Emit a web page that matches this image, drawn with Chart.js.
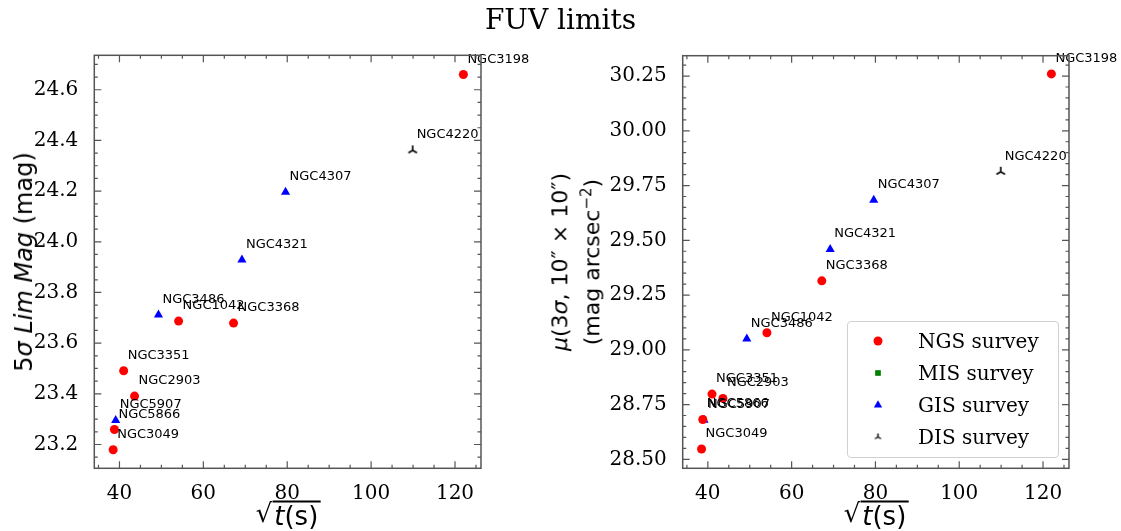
<!DOCTYPE html>
<html>
<head>
<meta charset="utf-8">
<script src="https://cdn.jsdelivr.net/npm/chart.js@4.4.0/dist/chart.umd.min.js"></script>
<style>
    body { margin: 0; background: #fff; }
    #fig { position: relative; width: 1121px; height: 531px; overflow: hidden; font-family: "DejaVu Sans", sans-serif; color: #000; }
    #fig canvas.plot { position: absolute; top: 0; }
    .title { position: absolute; left: 0; width: 1121px; top: 3px; text-align: center; font-family: "DejaVu Serif", serif; font-size: 28px; }
    .ylab { position: absolute; white-space: nowrap; transform: translate(-50%, -50%) rotate(-90deg); text-align: center; }
    .xlab { position: absolute; white-space: nowrap; transform: translate(-50%, -50%); font-size: 26px; line-height: 30px; }
    .xlab .rad { display: inline-block; line-height: 26px; border-top: 2px solid #000; padding: 0 2px; vertical-align: top; margin-top: 3px; }
    .legend { position: absolute; left: 847px; top: 321px; width: 210px; height: 135px; border: 1px solid #d0d0d0; border-radius: 4px; background: rgba(255,255,255,0.85); font-family: "DejaVu Serif", serif; font-size: 20px; }
    .legend .row { position: absolute; left: 0; height: 30px; line-height: 30px; }
    .legend canvas { position: absolute; left: 20px; top: 5px; }
    .legend span { position: absolute; left: 70px; white-space: nowrap; }
</style>
</head>
<body>
<div id="fig">
    <canvas id="leftPlot" class="plot" width="560" height="531" style="left:0"></canvas>
    <canvas id="rightPlot" class="plot" width="561" height="531" style="left:560px"></canvas>
    <div class="title">FUV limits</div>
    <div class="ylab" style="left:24px; top:262px; font-size:24px;">5<i>σ</i> <i>Lim</i> <i>Mag</i> (mag)</div>
    <div class="ylab" style="left:576px; top:262px; font-size:22px; line-height:27px;"><i>μ</i>(3<i>σ</i>, 10″ × 10″)<br>(mag arcsec<sup style="font-size:15px">−2</sup>)</div>
    <div class="xlab" style="left:288px; top:513px;">√<span class="rad"><i>t</i>(s)</span></div>
    <div class="xlab" style="left:876px; top:513px;">√<span class="rad"><i>t</i>(s)</span></div>
    <div class="legend" id="legend"></div>
</div>
<script>
// --- Data ---
// sqrt(t) in seconds, 5 sigma limiting magnitude, 3 sigma surface brightness limit
const ngsNames = ['NGC3198', 'NGC1042', 'NGC3368', 'NGC3351', 'NGC2903', 'NGC5866', 'NGC3049'];
const ngsT     = [122.0, 54.1, 67.2, 41.0, 43.6, 38.8, 38.5];
const ngsLim   = [24.660, 23.687, 23.679, 23.491, 23.391, 23.259, 23.179];
const ngsMu    = [30.260, 29.078, 29.315, 28.798, 28.778, 28.682, 28.547];

const misNames = [];
const misT     = [];
const misLim   = [];
const misMu    = [];

const gisNames = ['NGC4307', 'NGC4321', 'NGC3486', 'NGC5907'];
const gisT     = [79.6, 69.2, 49.3, 39.1];
const gisLim   = [24.196, 23.929, 23.712, 23.295];
const gisMu    = [29.684, 29.459, 29.050, 28.679];

const disNames = ['NGC4220'];
const disT     = [109.9];
const disLim   = [24.361];
const disMu    = [29.813];

const xTicks      = [40, 60, 80, 100, 120];
const yTicksLeft  = [23.2, 23.4, 23.6, 23.8, 24.0, 24.2, 24.4, 24.6];
const yTicksRight = [28.50, 28.75, 29.00, 29.25, 29.50, 29.75, 30.00, 30.25];

// --- tri_up marker (matplotlib "2") as a small canvas ---
function triMarker(r, lw) {
    const c = document.createElement('canvas');
    c.width = c.height = 2 * r + 2;
    const g = c.getContext('2d');
    const cx = r + 1, cy = r + 1;
    g.strokeStyle = '#000';
    g.lineWidth = lw;
    g.beginPath();
    g.moveTo(cx, cy); g.lineTo(cx, cy - r);
    g.moveTo(cx, cy); g.lineTo(cx - r * 0.866, cy + r * 0.5);
    g.moveTo(cx, cy); g.lineTo(cx + r * 0.866, cy + r * 0.5);
    g.stroke();
    return c;
}
const triStyle = triMarker(5, 1.6);

function pts(xs, ys) {
    return xs.map((x, i) => ({ x: x, y: ys[i] }));
}

function makeSets(ngsY, misY, gisY, disY) {
    return [
        { label: 'NGS survey', names: ngsNames, data: pts(ngsT, ngsY), pointStyle: 'circle', pointRadius: 4.5, backgroundColor: '#ff0000', borderColor: '#ff0000', borderWidth: 0 },
        { label: 'MIS survey', names: misNames, data: pts(misT, misY), pointStyle: 'rect', pointRadius: 4, backgroundColor: '#008000', borderColor: '#008000', borderWidth: 0 },
        { label: 'GIS survey', names: gisNames, data: pts(gisT, gisY), pointStyle: 'triangle', pointRadius: 5.3, backgroundColor: '#0000ff', borderColor: '#0000ff', borderWidth: 0 },
        { label: 'DIS survey', names: disNames, data: pts(disT, disY), pointStyle: triStyle, pointRadius: 5 }
    ];
}

// --- Frame: spines plus inward major/minor ticks on all four sides ---
const framePlugin = {
    id: 'frame',
    afterDraw(chart, args, opts) {
        const { ctx, chartArea: a, scales } = chart;
        const x = scales.x, y = scales.y;
        ctx.save();
        ctx.strokeStyle = '#555';
        ctx.lineWidth = 1.2;
        ctx.beginPath();
        const xTick = (v, len) => {
            const px = x.getPixelForValue(v);
            if (px < a.left - 0.5 || px > a.right + 0.5) return;
            ctx.moveTo(px, a.bottom); ctx.lineTo(px, a.bottom - len);
            ctx.moveTo(px, a.top); ctx.lineTo(px, a.top + len);
        };
        const yTick = (v, len) => {
            const py = y.getPixelForValue(v);
            if (py < a.top - 0.5 || py > a.bottom + 0.5) return;
            ctx.moveTo(a.left, py); ctx.lineTo(a.left + len, py);
            ctx.moveTo(a.right, py); ctx.lineTo(a.right - len, py);
        };
        for (let v = Math.ceil(x.min / opts.xMinor) * opts.xMinor; v <= x.max; v += opts.xMinor) xTick(v, 3.5);
        for (let v = Math.ceil(y.min / opts.yMinor - 1e-6) * opts.yMinor; v <= y.max; v += opts.yMinor) yTick(v, 3.5);
        x.ticks.forEach(t => xTick(t.value, 7));
        y.ticks.forEach(t => yTick(t.value, 7));
        ctx.stroke();
        ctx.lineWidth = 1.5;
        ctx.strokeRect(a.left, a.top, a.right - a.left, a.bottom - a.top);
        ctx.restore();
    }
};

// --- Galaxy name next to each point ---
const namesPlugin = {
    id: 'names',
    afterDatasetsDraw(chart) {
        const ctx = chart.ctx;
        ctx.save();
        ctx.font = '13px "DejaVu Sans"';
        ctx.fillStyle = '#000';
        ctx.textAlign = 'left';
        ctx.textBaseline = 'alphabetic';
        chart.data.datasets.forEach((ds, i) => {
            const meta = chart.getDatasetMeta(i);
            meta.data.forEach((el, j) => {
                ctx.fillText(ds.names[j], el.x + 4, el.y - 12);
            });
        });
        ctx.restore();
    }
};

function makeChart(id, sets, yMin, yMax, yTicks, decimals, yMinor, yWidth, pad) {
    return new Chart(document.getElementById(id), {
        type: 'scatter',
        data: { datasets: sets },
        plugins: [framePlugin, namesPlugin],
        options: {
            responsive: false,
            animation: false,
            events: [],
            layout: { padding: pad },
            plugins: {
                legend: { display: false },
                tooltip: { enabled: false },
                frame: { xMinor: 5, yMinor: yMinor }
            },
            scales: {
                x: {
                    type: 'linear', min: 34.0, max: 126.2,
                    grid: { display: false }, border: { display: false },
                    afterBuildTicks: s => { s.ticks = xTicks.map(v => ({ value: v })); },
                    afterFit: s => { s.height = 531 - 468.3; },
                    ticks: { font: { family: 'DejaVu Serif', size: 20 }, color: '#000', padding: 5, maxRotation: 0, autoSkip: false }
                },
                y: {
                    type: 'linear', min: yMin, max: yMax,
                    grid: { display: false }, border: { display: false },
                    afterBuildTicks: s => { s.ticks = yTicks.map(v => ({ value: v })); },
                    afterFit: s => { s.width = yWidth; },
                    ticks: { font: { family: 'DejaVu Serif', size: 20 }, color: '#000', padding: 8, autoSkip: false,
                             callback: v => Number(v).toFixed(decimals) }
                }
            }
        }
    });
}

makeChart('leftPlot', makeSets(ngsLim, misLim, gisLim, disLim), 23.106, 24.736, yTicksLeft, 1, 0.05, 94.3,
          { left: 0, top: 55.3, right: 79, bottom: 0 });
makeChart('rightPlot', makeSets(ngsMu, misMu, gisMu, disMu), 28.459, 30.343, yTicksRight, 2, 0.05, 122.7,
          { left: 0, top: 55.7, right: 52, bottom: 0 });

// --- Legend in the right panel ---
const legendItems = [
    { label: 'NGS survey', style: 'circle', color: '#ff0000', r: 4.5 },
    { label: 'MIS survey', style: 'rect', color: '#008000', r: 4 },
    { label: 'GIS survey', style: 'triangle', color: '#0000ff', r: 4.8 },
    { label: 'DIS survey', style: triMarker(3.5, 1.4), color: '#000', r: 3.5 }
];
const legendEl = document.getElementById('legend');
legendItems.forEach((item, i) => {
    const row = document.createElement('div');
    row.className = 'row';
    row.style.top = (4 + i * 32) + 'px';
    const c = document.createElement('canvas');
    c.width = 20; c.height = 20;
    const g = c.getContext('2d');
    g.fillStyle = item.color;
    g.strokeStyle = item.color;
    g.lineWidth = 0;
    Chart.helpers.drawPoint(g, { pointStyle: item.style, radius: item.r, borderWidth: 0 }, 10, 10);
    const s = document.createElement('span');
    s.textContent = item.label;
    row.appendChild(c);
    row.appendChild(s);
    legendEl.appendChild(row);
});
</script>
</body>
</html>
